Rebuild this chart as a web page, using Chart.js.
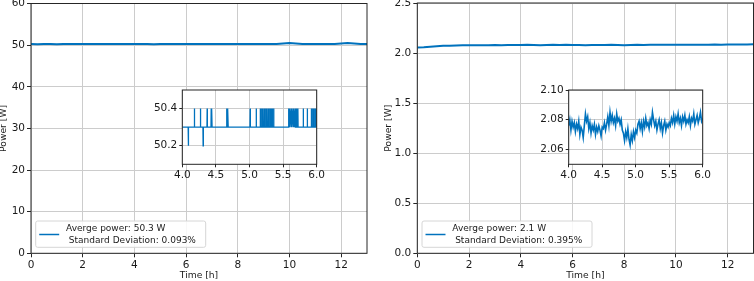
<!DOCTYPE html>
<html>
<head>
<meta charset="utf-8">
<script src="https://cdn.jsdelivr.net/npm/chart.js@4/dist/chart.umd.min.js"></script>
<style>
  body { margin: 0; background: #fff; width: 754px; height: 281px; overflow: hidden; position: relative; }
  canvas { position: absolute; }
</style>
</head>
<body>
<canvas id="mainA" width="377" height="281" style="left:0;top:0;width:377px;height:281px"></canvas>
<canvas id="mainB" width="377" height="281" style="left:377px;top:0;width:377px;height:281px"></canvas>
<canvas id="insetA" width="190" height="100" style="left:140px;top:84px;width:190px;height:100px"></canvas>
<canvas id="insetB" width="190" height="100" style="left:530px;top:84px;width:190px;height:100px"></canvas>
<script>
// ---- data ----
const mainStep = 0.25 // h between samples of the long runs
const powerA = [50.3, 50.2, 50.3, 50.3, 50.2, 50.3, 50.3, 50.3, 50.3, 50.3, 50.3, 50.3, 50.3,
  50.3, 50.3, 50.3, 50.3, 50.3, 50.3, 50.2, 50.3, 50.3, 50.3, 50.3, 50.3, 50.3, 50.3, 50.3,
  50.3, 50.3, 50.3, 50.3, 50.3, 50.3, 50.3, 50.3, 50.3, 50.3, 50.3, 50.4, 50.5, 50.4, 50.3,
  50.3, 50.3, 50.3, 50.3, 50.3, 50.4, 50.5, 50.4, 50.3, 50.3]
const powerB = [2.056, 2.058, 2.062, 2.067, 2.072, 2.074, 2.076, 2.077, 2.078, 2.077, 2.079,
  2.078, 2.080, 2.079, 2.081, 2.080, 2.080, 2.082, 2.081, 2.078, 2.081, 2.082, 2.080, 2.082,
  2.081, 2.080, 2.079, 2.081, 2.080, 2.081, 2.082, 2.080, 2.079, 2.081, 2.082, 2.081, 2.083,
  2.082, 2.083, 2.082, 2.083, 2.084, 2.083, 2.082, 2.084, 2.083, 2.085, 2.084, 2.085, 2.086,
  2.085, 2.086, 2.087]

// zoomed window 4-6 h, panel A: flat 50.3 W with single-sample jumps
const insetABase = 50.3
const insetAUp = [4.18, 4.27, 4.37, 4.43, 4.44, 4.66, 4.67, 4.68, 5.01, 5.10, 5.16, 5.18, 5.20,
  5.22, 5.24, 5.26, 5.28, 5.30, 5.32, 5.34, 5.36, 5.58, 5.59, 5.60, 5.62, 5.63, 5.65, 5.66,
  5.68, 5.70, 5.72, 5.80, 5.86, 5.92, 5.94, 5.95, 5.97, 5.99]
const insetADown = [4.09, 4.31]

// zoomed window 4-6 h, panel B: one sample per minute
const insetBStart = 4.0
const insetBStep = 1 / 60
const insetB = [2.076, 2.080, 2.073, 2.079, 2.075, 2.078, 2.072, 2.077, 2.074, 2.079, 2.070,
  2.075, 2.073, 2.068, 2.076, 2.084,
  2.079, 2.082, 2.074, 2.078, 2.071, 2.076, 2.073, 2.077, 2.070, 2.075, 2.072, 2.076, 2.073, 2.069, 2.075,
  2.074, 2.078, 2.073, 2.077, 2.082, 2.076, 2.085, 2.079, 2.083, 2.078, 2.081, 2.076, 2.084, 2.079, 2.081,
  2.077, 2.080, 2.073, 2.071, 2.066, 2.072, 2.068, 2.074, 2.067, 2.063, 2.070, 2.066, 2.072, 2.068, 2.073,
  2.071, 2.077, 2.079, 2.074, 2.078, 2.072, 2.079, 2.075, 2.081, 2.076, 2.078, 2.074, 2.080, 2.077, 2.085,
  2.080, 2.076, 2.079, 2.073, 2.077, 2.080, 2.074, 2.078, 2.071, 2.076, 2.079, 2.073, 2.077, 2.075, 2.078,
  2.076, 2.081, 2.078, 2.083, 2.077, 2.082, 2.079, 2.084, 2.078, 2.081, 2.076, 2.082, 2.079, 2.083, 2.077,
  2.080, 2.078, 2.082, 2.076, 2.081, 2.079, 2.084, 2.077, 2.080, 2.083, 2.078, 2.081, 2.085, 2.079, 2.081]

// tick labels
const timeTicks = [0, 2, 4, 6, 8, 10, 12]
const powerATicks = [0, 10, 20, 30, 40, 50, 60]
const powerBTicks = [0, 0.5, 1.0, 1.5, 2.0, 2.5]
const insetTimeTicks = [4.0, 4.5, 5.0, 5.5, 6.0]
const insetATicks = [50.2, 50.4]
const insetBTicks = [2.06, 2.08, 2.10]

const labelA = 'Averge power: 50.3 W\n Standard Deviation: 0.093%'
const labelB = 'Averge power: 2.1 W\n Standard Deviation: 0.395%'

// ---- drawing ----
const BLUE = '#0072bd'
const FONT = 'DejaVu Sans'
const TEXT = '#1a1a1a'

const framePlugin = {
  id: 'frame',
  beforeDraw (chart, args, o) {
    if (!o.fill) return
    const a = chart.chartArea
    chart.ctx.save()
    chart.ctx.fillStyle = '#fff'
    chart.ctx.fillRect(a.left, a.top, a.right - a.left, a.bottom - a.top)
    chart.ctx.restore()
  },
  afterDraw (chart, args, o) {
    const { ctx, chartArea: a } = chart
    ctx.save()
    ctx.strokeStyle = '#262626'
    ctx.lineWidth = 1
    ctx.strokeRect(a.left, a.top, a.right - a.left, a.bottom - a.top)
    if (o.legend) {
      const lines = chart.data.datasets[0].label.split('\n')
      const x = a.left + 4.7, y = a.bottom - 32.3, w = 170, h = 26.3
      ctx.beginPath()
      ctx.roundRect(x, y, w, h, 2)
      ctx.fillStyle = 'rgba(255,255,255,0.85)'
      ctx.fill()
      ctx.strokeStyle = '#d6d6d6'
      ctx.stroke()
      ctx.beginPath()
      ctx.moveTo(x + 3.5, y + 13.5)
      ctx.lineTo(x + 23.5, y + 13.5)
      ctx.strokeStyle = BLUE
      ctx.lineWidth = 1.5
      ctx.stroke()
      ctx.fillStyle = TEXT
      ctx.font = '9px "' + FONT + '"'
      ctx.textBaseline = 'middle'
      lines.forEach((s, i) => ctx.fillText(s, x + 30.3, y + 7.5 + i * 12))
    }
    ctx.restore()
  }
}

function axis (ticks, min, max, digits, fitSize, isX, tick, title) {
  return {
    type: 'linear',
    min: min,
    max: max,
    afterBuildTicks: s => { s.ticks = ticks.map(v => ({ value: v })) },
    afterFit: s => {
      if (isX) s.height = fitSize; else s.width = fitSize
      s.paddingLeft = 0; s.paddingRight = 0; s.paddingTop = 0; s.paddingBottom = 0
    },
    grid: { color: '#cccccc', lineWidth: 1, tickColor: '#262626', tickLength: tick.len, drawTicks: true },
    border: { display: false },
    ticks: {
      autoSkip: false,
      maxRotation: 0,
      padding: tick.pad,
      color: TEXT,
      font: { family: FONT, size: tick.size },
      callback: v => v.toFixed(digits)
    },
    title: title
  }
}

function panel (id, W, H, area, o) {
  return new Chart(document.getElementById(id), {
    type: 'line',
    data: {
      datasets: [{
        label: o.label,
        data: o.data,
        borderColor: BLUE,
        borderWidth: o.lw,
        pointRadius: 0,
        tension: 0,
        fill: false
      }]
    },
    options: {
      responsive: false,
      animation: false,
      events: [],
      layout: { padding: { left: 0, top: area.top, right: W - area.right, bottom: 0 } },
      plugins: {
        legend: { display: false },
        tooltip: { enabled: false },
        frame: { fill: o.inset, legend: !o.inset }
      },
      scales: {
        x: axis(o.xTicks, o.xMin, o.xMax, o.xDigits, H - area.bottom, true, o.tick,
          o.xTitle ? { display: true, text: o.xTitle, color: TEXT, font: { family: FONT, size: 9.2 }, padding: { top: 0, bottom: 0 } } : { display: false }),
        y: axis(o.yTicks, o.yMin, o.yMax, o.yDigits, area.left, false, o.tick,
          o.yTitle ? { display: true, text: o.yTitle, color: TEXT, font: { family: FONT, size: 9.2 }, padding: { top: o.yTitlePad, bottom: 0 } } : { display: false })
      }
    },
    plugins: [framePlugin]
  })
}

const mainTick = { len: 4, pad: 2, size: 10.5 }
const insetTick = { len: 3, pad: 2, size: 10.5 }

panel('mainA', 377, 281, { left: 31, right: 367, top: 3.5, bottom: 253.3 }, {
  label: labelA, lw: 2, inset: false,
  data: powerA.map((v, i) => ({ x: i * mainStep, y: v })),
  xTicks: timeTicks, xMin: 0, xMax: 13, xDigits: 0, xTitle: 'Time [h]',
  yTicks: powerATicks, yMin: 0, yMax: 60, yDigits: 0, yTitle: 'Power [W]', yTitlePad: -1.5,
  tick: mainTick
})

panel('mainB', 377, 281, { left: 40.3, right: 376.5, top: 3, bottom: 253.3 }, {
  label: labelB, lw: 2, inset: false,
  data: powerB.map((v, i) => ({ x: i * mainStep, y: v })),
  xTicks: timeTicks, xMin: 0, xMax: 13, xDigits: 0, xTitle: 'Time [h]',
  yTicks: powerBTicks, yMin: 0, yMax: 2.5, yDigits: 1, yTitle: 'Power [W]', yTitlePad: 5.8,
  tick: mainTick
})

// panel A inset: baseline with one-sample jumps
const jumpsA = insetAUp.map(t => [t, insetABase + 0.1])
  .concat(insetADown.map(t => [t, insetABase - 0.1]))
  .sort((p, q) => p[0] - q[0])
const insetAData = [{ x: 4.0, y: insetABase }]
jumpsA.forEach(([t, v]) => {
  insetAData.push({ x: t - 0.003, y: insetABase }, { x: t, y: v }, { x: t + 0.003, y: insetABase })
})
insetAData.push({ x: 6.0, y: insetABase })

panel('insetA', 190, 100, { left: 42.3, right: 176.7, top: 6, bottom: 80.3 }, {
  label: '', lw: 1.3, inset: true,
  data: insetAData,
  xTicks: insetTimeTicks, xMin: 4, xMax: 6, xDigits: 1,
  yTicks: insetATicks, yMin: 50.1, yMax: 50.5, yDigits: 1,
  tick: insetTick
})

panel('insetB', 190, 100, { left: 38.7, right: 172.7, top: 6, bottom: 80.3 }, {
  label: '', lw: 1.6, inset: true,
  data: insetB.map((v, i) => ({ x: insetBStart + i * insetBStep, y: v })),
  xTicks: insetTimeTicks, xMin: 4, xMax: 6, xDigits: 1,
  yTicks: insetBTicks, yMin: 2.05, yMax: 2.10, yDigits: 2,
  tick: insetTick
})
</script>
</body>
</html>
